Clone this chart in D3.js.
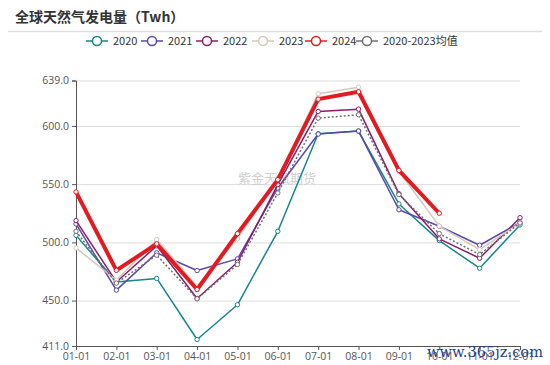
<!DOCTYPE html>
<html><head><meta charset="utf-8">
<script src="https://cdn.jsdelivr.net/npm/d3@7"></script>
<style>body{margin:0;background:#fff;}svg{display:block;}</style>
</head><body><svg id="c" width="550" height="365"></svg>
<script>
const months = ["01-01","02-01","03-01","04-01","05-01","06-01","07-01","08-01","09-01","10-01","11-01","12-01"];
const seriesNames = ["2020","2021","2022","2023","2024","2020-2023均值"];
const v2020 = [506,466,469,416.6,446.4,509.5,593.3,595.6,533,501.5,477.8,515];
const v2021 = [515.8,459,491,475.8,485.8,546.7,593,595.6,528,513.8,497.5,517];
const v2022 = [518.7,466,497,451.8,482.9,549.5,612.4,614.4,541.8,503,486.4,521.2];
const v2023 = [495.2,467.5,502.4,462.4,503,555,627.6,633.3,561,514,493.8,516.7];
const v2024 = [543.3,476,498.7,459.5,507.5,553.8,623,629.3,561.8,525];
const vAvg  = [509.5,465,489,451.5,481,542.4,606.7,609.6,541,507.5,489.5,516.7];
const yTicks = [411,450,500,550,600,639];

const colors = ["#14868c","#5b48a8","#8a1c6c","#d6c9ba","#e01b22","#707070"];
const data = [v2020,v2021,v2022,v2023,v2024,vAvg];

const svg = d3.select("#c");
const x = d3.scalePoint().domain(months).range([76,520]);
const y = d3.scaleLinear().domain([411,639]).range([346,80.5]);

// title
svg.append("text").attr("x",15).attr("y",22).text("全球天然气发电量（Twh）")
  .attr("font-family","'Noto Sans CJK SC'").attr("font-weight","bold").attr("font-size",14).attr("fill","#333");
svg.append("line").attr("x1",8).attr("x2",542).attr("y1",31.5).attr("y2",31.5).attr("stroke","#ddd").attr("stroke-width",1.5);

// grid
svg.append("g").selectAll("line").data(yTicks.slice(1)).join("line")
  .attr("x1",76).attr("x2",520).attr("y1",d=>y(d)+0.5).attr("y2",d=>y(d)+0.5)
  .attr("stroke","#ddd").attr("stroke-width",1);

// watermark
svg.append("text").attr("x",238).attr("y",183).text("紫金天风期货")
  .attr("font-family","'Noto Sans CJK SC'").attr("font-size",13).attr("fill","#d0d0d0");

// axes
const yAxis = d3.axisLeft(y).tickValues(yTicks).tickFormat(d3.format(".1f")).tickSize(4).tickPadding(3);
const gy = svg.append("g").attr("transform","translate(76,0)").call(yAxis);
gy.select(".domain").attr("stroke","#555");
gy.selectAll(".tick line").attr("stroke","#555");
gy.selectAll("text").attr("font-family","'Open Sans'").attr("font-size",10.5).attr("fill","#555");

const xAxis = d3.axisBottom(x).tickSize(4).tickPadding(3);
const gx = svg.append("g").attr("transform","translate(0,346)").call(xAxis);
gx.select(".domain").attr("stroke","#555");
gx.selectAll(".tick line").attr("stroke","#555");
gx.selectAll("text").attr("font-family","'Open Sans'").attr("font-size",10.5).attr("fill","#555");

// lines
const line = d3.line().x((d,i)=>x(months[i])).y(d=>y(d));
const order = [0,1,2,3,5,4];
order.forEach(k=>{
  const g = svg.append("g");
  const isRed = k===4, isAvg = k===5;
  g.append("path").attr("d",line(data[k])).attr("fill","none")
    .attr("stroke",colors[k]).attr("stroke-width",isRed?4:1.5)
    .attr("stroke-dasharray",isAvg?"2,2":null).attr("stroke-linejoin","round");
  g.selectAll("circle").data(data[k]).join("circle")
    .attr("cx",(d,i)=>x(months[i])).attr("cy",d=>y(d)).attr("r",2.2)
    .attr("fill","#fff").attr("stroke",colors[k]).attr("stroke-width",1);
});

// legend
const legX = [97,152,207,263,316,367];
const lg = svg.append("g");
seriesNames.forEach((n,i)=>{
  const cx = legX[i];
  lg.append("line").attr("x1",cx-11).attr("x2",cx+11).attr("y1",41).attr("y2",41).attr("stroke",colors[i]).attr("stroke-width",1.5);
  lg.append("circle").attr("cx",cx).attr("cy",41).attr("r",4.5).attr("fill","#fff").attr("stroke",colors[i]).attr("stroke-width",1.5);
  lg.append("text").attr("x",cx+16).attr("y",45).text(n)
    .attr("font-family","'Noto Sans CJK SC'").attr("font-size",11).attr("fill","#333");
});

// site watermark
svg.append("text").attr("x",427).attr("y",357).text("www.365jz.com")
  .attr("font-family","'DejaVu Serif'").attr("font-size",15).attr("fill","#1e3f8c")
  .attr("textLength",116).attr("lengthAdjust","spacingAndGlyphs");
</script></body></html>
